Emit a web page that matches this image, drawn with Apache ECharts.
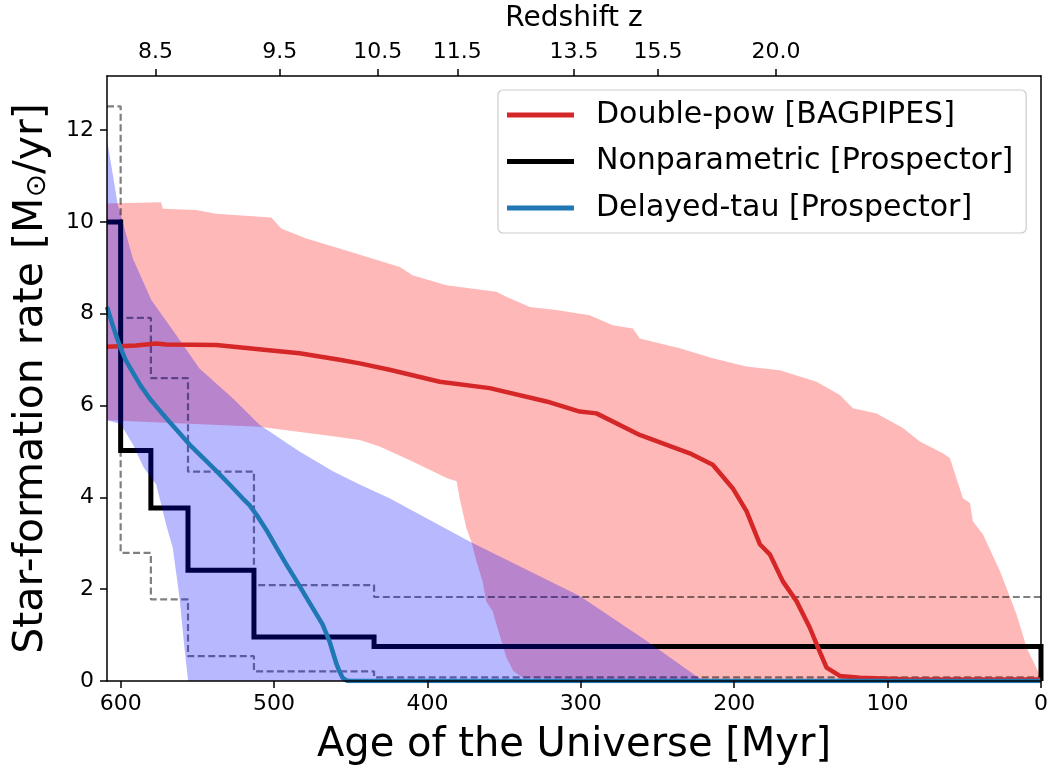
<!DOCTYPE html>
<html>
<head>
<meta charset="utf-8">
<script src="https://cdn.jsdelivr.net/npm/echarts@6/dist/echarts.min.js"></script>
<style>
  html, body { margin: 0; padding: 0; background: #fff; }
  #chart { width: 1053px; height: 773px; }
</style>
</head>
<body>
<div id="chart"></div>
<script>
// Star-formation histories: age of the Universe [Myr] vs SFR [Msun/yr]
const FONT = 'DejaVu Sans';
const AGE_MAX = 608.9;
const SFR_MAX = 13.18;

const ageTicks = [0, 100, 200, 300, 400, 500, 600];
const sfrTicks = [0, 2, 4, 6, 8, 10, 12];
const redshiftLabels = ['8.5', '9.5', '10.5', '11.5', '13.5', '15.5', '20.0'];
const redshiftTickAges = [577.3, 496.3, 432.4, 380.5, 304.4, 249.7, 172.7];

// Double-power-law SFH (BAGPIPES): median and 16-84% band, [age, sfr]
const dpowMedian = [
  [608.9, 7.28], [590, 7.31], [576.9, 7.35], [570.3, 7.33], [537.7, 7.32], [505, 7.21],
  [483.4, 7.14], [457.3, 7.0], [444.2, 6.92], [424.7, 6.78], [392, 6.52], [359.4, 6.38],
  [322.4, 6.09], [300.7, 5.87], [289.8, 5.83], [261.6, 5.36], [229, 4.96], [214, 4.71],
  [201, 4.2], [192, 3.7], [183.3, 2.98], [176.8, 2.76], [168.3, 2.17], [159.4, 1.74],
  [150.7, 1.16], [145.3, 0.72], [139.8, 0.29], [131.1, 0.11], [118, 0.07], [90, 0.04], [0, 0.03]
];
const dpowUpper = [
  [608.9, 10.4], [573.6, 10.43], [572.5, 10.29], [550.8, 10.26], [537.7, 10.18], [501.8, 10.1],
  [495.3, 9.86], [479, 9.64], [457.3, 9.42], [435.5, 9.2], [418, 9.02], [409.7, 8.84],
  [387.7, 8.62], [355, 8.48], [348.5, 8.37], [333.3, 8.15], [316, 8.08], [294.2, 7.97],
  [279.2, 7.75], [266.1, 7.68], [261.6, 7.46], [235.5, 7.25], [214, 7.03], [192, 6.85],
  [170.3, 6.77], [146.3, 6.52], [131.1, 6.23], [122.6, 5.94], [107.2, 5.83], [90, 5.51],
  [79, 5.22], [64, 4.96], [59.4, 4.86], [50.9, 3.98], [46.3, 3.88], [44.4, 3.48],
  [37.8, 3.19], [26.7, 2.39], [15.9, 1.45], [9.3, 0.72], [2, 0.22], [0, 0.05]
];
const dpowLower = [
  [608.9, 5.68], [509.5, 5.54], [461.6, 5.33], [444.2, 5.25], [431.2, 5.11], [409.7, 4.78],
  [387.5, 4.42], [381, 4.35], [379, 3.98], [374.6, 3.33], [371.4, 3.04], [368, 2.6],
  [364, 2.17], [361.7, 1.74], [357.5, 1.52], [353, 1.01], [348.5, 0.51], [344, 0.22],
  [338, 0.07], [300, 0.04], [0, 0.03]
];

// Delayed-tau SFH (Prospector): median and 16-84% band, [age, sfr]
const tauMedian = [
  [608.9, 8.15], [605.2, 7.75], [600.8, 7.32], [596.9, 7.0], [592.4, 6.74], [587.1, 6.44],
  [581.2, 6.16], [576, 5.95], [570.1, 5.72], [563, 5.45], [555.1, 5.15], [546.6, 4.87],
  [537.5, 4.57], [529, 4.28], [520.5, 3.98], [516, 3.83], [511.4, 3.62], [504.8, 3.28],
  [498.3, 2.9], [491.8, 2.53], [485.2, 2.17], [476.8, 1.7], [468.3, 1.23], [463.7, 0.85],
  [459.2, 0.36], [457.2, 0.2], [455.3, 0.07], [452.6, 0.01], [450.7, 0], [0, 0]
];
const tauUpper = [
  [608.9, 11.8], [602, 10.4], [592, 9.2], [580, 8.3], [563.8, 7.54], [548.6, 6.81],
  [526.9, 6.16], [509.5, 5.58], [483.4, 5.0], [461.6, 4.57], [444.2, 4.28], [424.7, 3.98],
  [372.5, 3.04], [333.3, 2.39], [300.7, 1.85], [257, 0.87], [224.4, 0.1], [219, 0]
];
const tauLower = [
  [608.9, 5.68], [600, 5.6], [592, 5.15], [585, 4.65], [576.8, 4.28], [570.3, 3.4],
  [566, 2.9], [561.6, 1.81], [558.4, 0.72], [556, 0]
];

// Nonparametric SFH (Prospector): bin edges [Myr] and per-bin SFR
const binEdges = [608.9, 600, 580.3, 556.1, 513.1, 434.8, 0];
const npMedian = [10.0, 5.02, 3.77, 2.41, 0.96, 0.75];
const npUpper = [12.52, 7.91, 6.6, 4.56, 2.09, 1.83];
const npLower = [10.0, 2.79, 1.78, 0.54, 0.21, 0.08];

function stepPoints(edges, vals, dropToZero) {
  const pts = [];
  vals.forEach((v, i) => {
    pts.push([edges[i], v]);
    pts.push([edges[i + 1], v]);
  });
  if (dropToZero) pts.push([edges[edges.length - 1], 0]);
  return pts;
}

function bandRenderer(upper, lower, fill) {
  return function (params, api) {
    const outline = upper.concat(lower.slice().reverse());
    return {
      type: 'polygon',
      shape: { points: outline.map(p => api.coord(p)) },
      style: { fill: fill }
    };
  };
}

const tickLine = { color: '#000', width: 1.5 };
const labelBase = { fontFamily: FONT, fontSize: 22, color: '#000' };

const option = {
  animation: false,
  backgroundColor: '#fff',
  grid: { left: 107, right: 12, top: 73, bottom: 92 },
  legend: {
    data: ['Double-pow [BAGPIPES]', 'Nonparametric [Prospector]', 'Delayed-tau [Prospector]'],
    orient: 'vertical',
    left: 498,
    top: 90,
    icon: 'rect',
    itemWidth: 67,
    itemHeight: 5,
    itemGap: 16.5,
    padding: [10, 13, 10, 9],
    backgroundColor: 'rgba(255,255,255,0.8)',
    borderColor: '#cccccc',
    borderWidth: 1.2,
    borderRadius: 5,
    textStyle: { fontFamily: FONT, fontSize: 30, color: '#000', lineHeight: 30, padding: [0, 0, 0, 17] },
    selectedMode: false,
    z: 20
  },
  xAxis: [
    {
      type: 'value', min: 0, max: AGE_MAX, inverse: true, position: 'bottom',
      name: 'Age of the Universe [Myr]', nameLocation: 'middle', nameGap: 45,
      nameTextStyle: { fontFamily: FONT, fontSize: 40, color: '#000' },
      axisLine: { show: true, onZero: false, lineStyle: tickLine },
      axisTick: { show: true, length: 7, customValues: ageTicks, lineStyle: tickLine },
      axisLabel: Object.assign({ customValues: ageTicks, margin: 12 }, labelBase),
      splitLine: { show: false },
      z: 10
    },
    {
      type: 'value', min: 0, max: AGE_MAX, inverse: true, position: 'top',
      name: 'Redshift z', nameLocation: 'middle', nameGap: 43,
      nameTextStyle: { fontFamily: FONT, fontSize: 28, color: '#000' },
      axisLine: { show: true, onZero: false, lineStyle: tickLine },
      axisTick: { show: true, length: 7, customValues: redshiftTickAges, lineStyle: tickLine },
      axisLabel: Object.assign({
        customValues: redshiftTickAges, margin: 13,
        formatter: function (v) {
          let best = 0;
          redshiftTickAges.forEach((a, i) => {
            if (Math.abs(a - v) < Math.abs(redshiftTickAges[best] - v)) best = i;
          });
          return redshiftLabels[best];
        }
      }, labelBase),
      splitLine: { show: false },
      z: 10
    }
  ],
  yAxis: [
    {
      type: 'value', min: 0, max: SFR_MAX, position: 'left',
      name: 'Star-formation rate [M{sub|⊙}/yr]', nameLocation: 'middle', nameGap: 55,
      nameTextStyle: {
        fontFamily: FONT, fontSize: 41, color: '#000',
        rich: { sub: { fontFamily: FONT, fontSize: 28, color: '#000', padding: [12, 0, 0, 0] } }
      },
      axisLine: { show: true, onZero: false, lineStyle: tickLine },
      axisTick: { show: true, length: 7, customValues: sfrTicks, lineStyle: tickLine },
      axisLabel: Object.assign({ customValues: sfrTicks, margin: 13 }, labelBase),
      splitLine: { show: false },
      z: 10
    },
    {
      type: 'value', min: 0, max: SFR_MAX, position: 'right',
      axisLine: { show: true, onZero: false, lineStyle: tickLine },
      axisTick: { show: false },
      axisLabel: { show: false },
      splitLine: { show: false },
      z: 10
    }
  ],
  series: [
    {
      type: 'custom', name: 'dpowBand', silent: true, clip: true, z: 1,
      data: [[AGE_MAX, 0]],
      renderItem: bandRenderer(dpowUpper, dpowLower, 'rgba(255,0,0,0.28)')
    },
    {
      type: 'line', name: 'Nonparametric [Prospector]', z: 2,
      data: stepPoints(binEdges, npMedian, true),
      showSymbol: false, symbol: 'none', clip: true,
      lineStyle: { color: '#000', width: 5, join: 'miter' },
      itemStyle: { color: '#000' }
    },
    {
      type: 'line', name: 'npUpper', z: 2,
      data: stepPoints(binEdges, npUpper, false),
      showSymbol: false, symbol: 'none', clip: true, silent: true,
      lineStyle: { color: 'rgba(0,0,0,0.5)', width: 2.2, type: [7, 3.5] }
    },
    {
      type: 'line', name: 'npLower', z: 2,
      data: stepPoints(binEdges, npLower, false),
      showSymbol: false, symbol: 'none', clip: true, silent: true,
      lineStyle: { color: 'rgba(0,0,0,0.5)', width: 2.2, type: [7, 3.5] }
    },
    {
      type: 'custom', name: 'tauBand', silent: true, clip: true, z: 3,
      data: [[AGE_MAX, 0]],
      renderItem: bandRenderer(tauUpper, tauLower, 'rgba(0,0,255,0.28)')
    },
    {
      type: 'line', name: 'Double-pow [BAGPIPES]', z: 4,
      data: dpowMedian,
      showSymbol: false, symbol: 'none', clip: true,
      lineStyle: { color: '#d62728', width: 4.5, join: 'round' },
      itemStyle: { color: '#d62728' }
    },
    {
      type: 'line', name: 'Delayed-tau [Prospector]', z: 5,
      data: tauMedian,
      showSymbol: false, symbol: 'none', clip: true,
      lineStyle: { color: '#1f77b4', width: 4.5, join: 'round' },
      itemStyle: { color: '#1f77b4' }
    }
  ]
};

const chart = echarts.init(document.getElementById('chart'), null, { renderer: 'canvas' });
chart.setOption(option);
</script>
</body>
</html>
